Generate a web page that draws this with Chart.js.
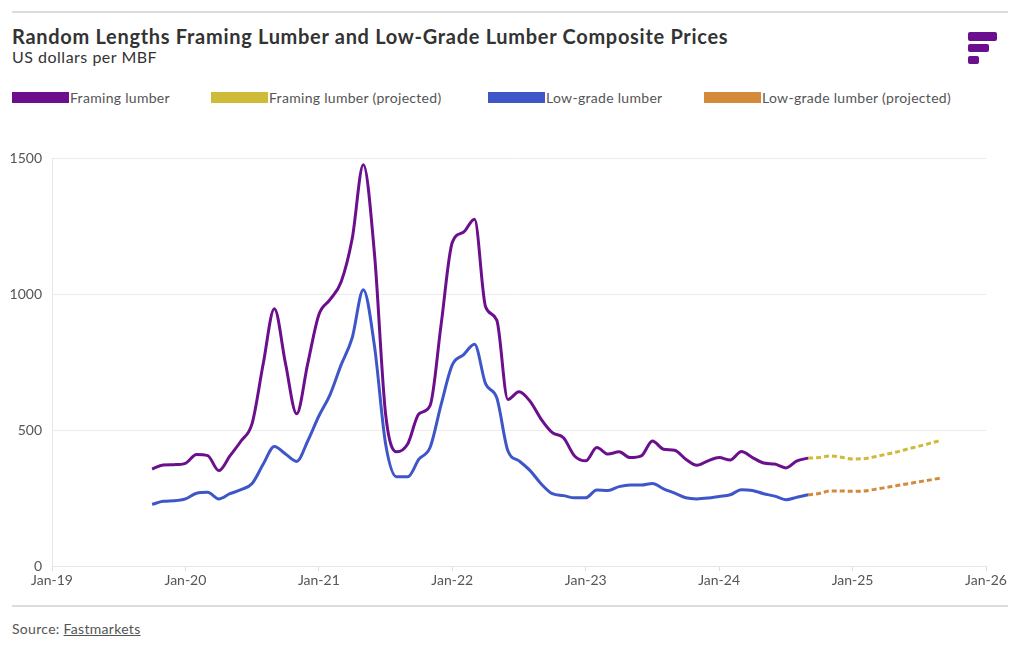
<!DOCTYPE html>
<html>
<head>
<meta charset="utf-8">
<script src="https://cdn.jsdelivr.net/npm/chart.js@4.4.1/dist/chart.umd.min.js"></script>
<style>
  html, body { margin: 0; padding: 0; background: #fff; }
  body { width: 1020px; height: 650px; position: relative; overflow: hidden; font-family: 'Lato', 'Open Sans', sans-serif; color: #333; }
  .rule { position: absolute; left: 12px; width: 996px; height: 2px; background: #dcdcdc; }
  #title { position: absolute; left: 12px; top: 24px; font-size: 20px; font-weight: 700; color: #333; white-space: nowrap; letter-spacing: 0.7px; }
  #subtitle { position: absolute; left: 12px; top: 47px; font-size: 16px; color: #333; white-space: nowrap; letter-spacing: 0.5px; }
  #legend { position: absolute; left: 0; top: 87px; height: 20px; width: 1020px; }
  .li { position: absolute; top: 0; height: 20px; display: flex; align-items: center; white-space: nowrap; font-size: 14px; color: #555; letter-spacing: 0.3px; }
  .sw { width: 57px; height: 11px; margin-right: 1px; }
  #logo div { position: absolute; background: #6a0f8e; border-radius: 2px; }
  #source { position: absolute; left: 12px; top: 620px; font-size: 14px; color: #555; letter-spacing: 0.3px; }
  #source u { text-decoration: underline; }
  #wrap { position: absolute; left: 0; top: 140px; width: 1020px; height: 460px; }
</style>
</head>
<body>
<div class="rule" style="top:11px"></div>
<div id="title">Random Lengths Framing Lumber and Low-Grade Lumber Composite Prices</div>
<div id="subtitle">US dollars per MBF</div>
<div id="logo">
  <div style="left:968px;top:32px;width:29px;height:9px"></div>
  <div style="left:968px;top:44px;width:21px;height:8px"></div>
  <div style="left:968px;top:56px;width:11px;height:8px"></div>
</div>
<div id="legend"></div>
<div id="wrap"><canvas id="c" width="1020" height="460"></canvas></div>
<div class="rule" style="top:605px"></div>
<div id="source">Source: <u>Fastmarkets</u></div>
<script>
// Month index counted from Jan-2019 (0)
const actualStartMonth = 9;      // Oct-2019
const projStartMonth = 68;       // Sep-2024
const tickLabels = ['Jan-19','Jan-20','Jan-21','Jan-22','Jan-23','Jan-24','Jan-25','Jan-26'];
const seriesNames = ['Framing lumber','Framing lumber (projected)','Low-grade lumber','Low-grade lumber (projected)'];
const seriesColors = ['#6b0f8d','#cfbb38','#3f56c9','#d4893b'];

// Oct-2019 .. Sep-2024 (monthly)
const framing = [357,372,373,378,410,406,351,405,460,525,745,947,745,560,745,925,980,1045,1205,1477,1150,560,420,450,560,590,890,1191,1228,1276,953,905,613,641,606,540,491,472,405,387,436,412,420,399,405,460,430,426,393,371,387,399,390,421,399,379,375,361,387,397];
const lowGrade = [227,238,240,247,268,271,247,266,281,304,375,440,412,385,460,552,630,740,840,1017,810,450,328,328,393,436,595,740,777,816,670,619,424,387,351,302,266,259,251,251,280,278,292,298,298,304,284,268,251,247,250,256,262,281,278,266,257,244,253,262];
// Sep-2024 .. Sep-2025 (monthly)
const framingProj = [397,399,405,400,394,395,402,411,420,431,441,452,463];
const lowGradeProj = [262,267,276,276,275,276,282,289,296,303,310,317,324];

function toPoints(vals, start) { return vals.map((v, i) => ({ x: start + i, y: v })); }

const datasets = [
  { label: seriesNames[0], data: toPoints(framing, actualStartMonth), borderColor: seriesColors[0], borderWidth: 3 },
  { label: seriesNames[1], data: toPoints(framingProj, projStartMonth), borderColor: seriesColors[1], borderWidth: 3, borderDash: [5,3] },
  { label: seriesNames[2], data: toPoints(lowGrade, actualStartMonth), borderColor: seriesColors[2], borderWidth: 3 },
  { label: seriesNames[3], data: toPoints(lowGradeProj, projStartMonth), borderColor: seriesColors[3], borderWidth: 3, borderDash: [5,3] }
].map(d => Object.assign(d, { pointRadius: 0, fill: false, cubicInterpolationMode: 'monotone', borderJoinStyle: 'round', backgroundColor: d.borderColor }));

// HTML legend built from datasets
const legendX = [12, 211, 488, 704];
const lg = document.getElementById('legend');
datasets.forEach((d, i) => {
  const it = document.createElement('div');
  it.className = 'li';
  it.style.left = legendX[i] + 'px';
  const sw = document.createElement('span');
  sw.className = 'sw';
  sw.style.background = d.borderColor;
  const t = document.createElement('span');
  t.textContent = d.label;
  it.appendChild(sw); it.appendChild(t);
  lg.appendChild(it);
});

const font = { family: "'Lato', 'Open Sans', sans-serif", size: 14 };
new Chart(document.getElementById('c'), {
  type: 'line',
  data: { datasets },
  options: {
    responsive: false,
    animation: false,
    layout: { padding: { top: 16, right: 34, left: 0, bottom: 0 } },
    plugins: { legend: { display: false }, tooltip: { enabled: false }, title: { display: false } },
    scales: {
      x: {
        type: 'linear', min: 0, max: 84,
        afterFit: s => { s.height = 34; },
        ticks: { stepSize: 12, autoSkip: false, maxRotation: 0, padding: 1, color: '#555', font,
          callback: v => tickLabels[v / 12] },
        grid: { drawOnChartArea: false, drawTicks: true, tickLength: 5, color: '#dddddd' },
        border: { color: '#e6e6e6', width: 1 }
      },
      y: {
        min: 0, max: 1500,
        afterFit: s => { s.width = 52; },
        ticks: { stepSize: 500, padding: 10, color: '#555', font, callback: v => String(v) },
        grid: { drawTicks: false, color: '#ececec' },
        border: { color: '#e6e6e6', width: 1 }
      }
    }
  }
});
</script>
</body>
</html>
